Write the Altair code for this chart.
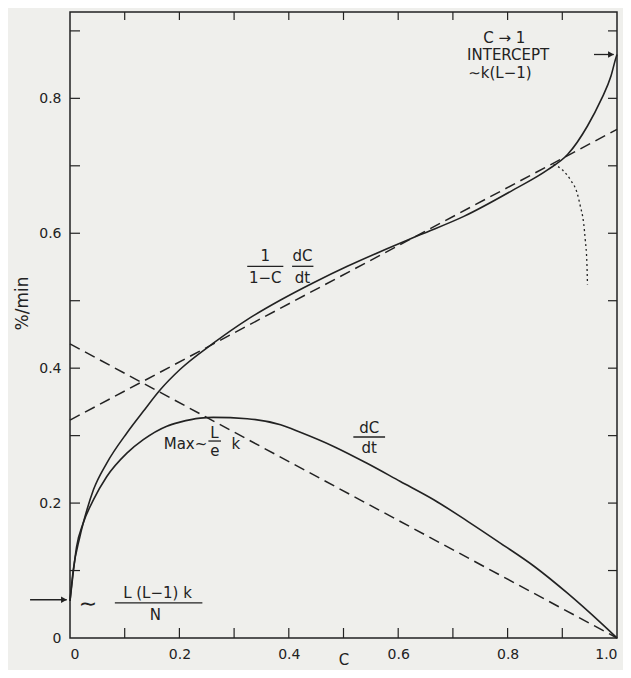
import altair as alt
import pandas as pd

# ---- data ----
# (1/(1-C)) dC/dt  (upper solid curve)
C_norm = [0.0, 0.006, 0.018, 0.031, 0.043, 0.067, 0.104, 0.134, 0.165, 0.201, 0.262,
          0.324, 0.385, 0.446, 0.507, 0.568, 0.641, 0.720, 0.812, 0.873, 0.910,
          0.946, 0.971, 0.989, 0.998, 1.0]
rate_norm = [0.055, 0.101, 0.150, 0.190, 0.220, 0.259, 0.304, 0.336, 0.368, 0.398, 0.437,
             0.472, 0.501, 0.527, 0.551, 0.573, 0.598, 0.625, 0.665, 0.694, 0.717,
             0.759, 0.798, 0.833, 0.860, 0.865]
# dC/dt (lower solid curve)
C_rate = [0.0, 0.006, 0.012, 0.024, 0.043, 0.067, 0.104, 0.134, 0.177, 0.201, 0.238,
          0.262, 0.324, 0.385, 0.421, 0.482, 0.543, 0.604, 0.665, 0.727, 0.788,
          0.849, 0.910, 0.971, 1.0]
rate = [0.055, 0.098, 0.135, 0.170, 0.205, 0.239, 0.274, 0.294, 0.314, 0.320, 0.326,
        0.327, 0.325, 0.316, 0.305, 0.284, 0.259, 0.232, 0.205, 0.173, 0.140,
        0.106, 0.066, 0.022, 0.0]
# dotted branch
C_dot = [0.884, 0.900, 0.915, 0.927, 0.933, 0.939, 0.942, 0.945, 0.946]
dot = [0.702, 0.694, 0.679, 0.660, 0.640, 0.615, 0.590, 0.555, 0.524]
# dashed straight lines
C_line = [0.0, 1.0]
dash_down = [0.436, 0.0]
dash_up = [0.323, 0.754]

x_ticks = [0.1, 0.2, 0.3, 0.4, 0.5, 0.6, 0.7, 0.8, 0.9]
y_ticks = [0.1, 0.2, 0.3, 0.4, 0.5, 0.6, 0.7, 0.8, 0.9]
x_labels = [0.0, 0.2, 0.4, 0.6, 0.8, 1.0]
y_labels = [0.0, 0.2, 0.4, 0.6, 0.8]

# annotations (data coordinates)
ann_text = ["1", "1\u2212C", "dC", "dt", "Max~", "L", "e", "k", "dC", "dt",
            "L (L\u22121) k", "N", "C \u2192 1", "INTERCEPT", "\u223ck(L\u22121)"]
ann_C = [0.357, 0.357, 0.425, 0.425, 0.251, 0.264, 0.265, 0.303, 0.547, 0.547,
         0.160, 0.156, 0.794, 0.801, 0.786]
ann_v = [0.566, 0.534, 0.566, 0.534, 0.288, 0.304, 0.277, 0.288, 0.312, 0.281,
         0.066, 0.0335, 0.890, 0.864, 0.837]
ann_align = ["center", "center", "center", "center", "right", "center", "center", "center",
             "center", "center", "center", "center", "center", "center", "center"]

tilde_C = [0.033]
tilde_v = [0.050]

bar_C = [0.324, 0.406, 0.253, 0.518, 0.082]
bar_C2 = [0.390, 0.445, 0.276, 0.576, 0.242]
bar_v = [0.551, 0.551, 0.292, 0.298, 0.052]

arrow_C = [-0.073, 0.958]
arrow_C2 = [-0.006, 0.994]
arrow_v = [0.0567, 0.865]
head_C = [-0.011, 0.989]

INK = "#222222"
FONT = "DejaVu Sans"
W, H = 547, 626

xs = alt.Scale(domain=[0, 1], nice=False, zero=False)
ys = alt.Scale(domain=[0, 0.928], nice=False, zero=False)
fmt = "datum.value == 0 ? '0' : format(datum.value, '.1f')"
x_axis = alt.Axis(values=x_labels, labelExpr=fmt, ticks=False, domain=False, grid=False,
                  labelPadding=9, labelFontSize=14, title="C", titleFontSize=15,
                  titleFontWeight="normal", titleY=14, titleBaseline="top")
y_axis = alt.Axis(values=y_labels, labelExpr=fmt, ticks=False, domain=False, grid=False,
                  labelPadding=9, labelFontSize=14, title="%/min", titleFontSize=17,
                  titleFontWeight="normal", titleX=-48, titleY=291, titleBaseline="middle",
                  titleAngle=270)


def X(field="C"):
    return alt.X(f"{field}:Q", scale=xs, axis=x_axis)


def Y(field="v"):
    return alt.Y(f"{field}:Q", scale=ys, axis=y_axis)


def line(cs, vs, dash=None, width=1.6, interp="linear"):
    df = pd.DataFrame({"C": cs, "v": vs})
    kw = dict(color=INK, strokeWidth=width, interpolate=interp)
    if dash:
        kw["strokeDash"] = dash
    return alt.Chart(df).mark_line(**kw).encode(x=X(), y=Y())


layers = [
    line(C_norm, rate_norm, interp="monotone"),
    line(C_rate, rate, interp="monotone"),
    line(C_line, dash_down, dash=[11, 6], width=1.5),
    line(C_line, dash_up, dash=[11, 6], width=1.5),
    line(C_dot, dot, dash=[2, 3], width=1.3, interp="monotone"),
]

xt = pd.DataFrame({"C": x_ticks})
yt = pd.DataFrame({"v": y_ticks})
layers += [
    alt.Chart(xt).mark_rule(color=INK, strokeWidth=1.2).encode(x=X(), y=alt.value(H), y2=alt.value(H - 10)),
    alt.Chart(xt).mark_rule(color=INK, strokeWidth=1.2).encode(x=X(), y=alt.value(0), y2=alt.value(8)),
    alt.Chart(yt).mark_rule(color=INK, strokeWidth=1.2).encode(y=Y(), x=alt.value(0), x2=alt.value(10)),
    alt.Chart(yt).mark_rule(color=INK, strokeWidth=1.2).encode(y=Y(), x=alt.value(W), x2=alt.value(W - 9)),
]

bars = pd.DataFrame({"C": bar_C, "C2": bar_C2, "v": bar_v})
layers.append(alt.Chart(bars).mark_rule(color=INK, strokeWidth=1.3).encode(
    x=X(), x2="C2:Q", y=Y()))

arrows = pd.DataFrame({"C": arrow_C, "C2": arrow_C2, "v": arrow_v})
layers.append(alt.Chart(arrows).mark_rule(color=INK, strokeWidth=1.3).encode(
    x=X(), x2="C2:Q", y=Y()))
heads = pd.DataFrame({"C": head_C, "v": arrow_v})
layers.append(alt.Chart(heads).mark_point(shape="triangle-right", filled=True, color=INK,
                                          size=45, opacity=1).encode(x=X(), y=Y()))

ann = pd.DataFrame({"C": ann_C, "v": ann_v, "label": ann_text, "al": ann_align})
layers.append(alt.Chart(ann[ann.al == "center"]).mark_text(
    font=FONT, fontSize=15, color=INK, align="center", baseline="middle").encode(
    x=X(), y=Y(), text="label:N"))
layers.append(alt.Chart(ann[ann.al == "right"]).mark_text(
    font=FONT, fontSize=15, color=INK, align="right", baseline="middle").encode(
    x=X(), y=Y(), text="label:N"))
tl = pd.DataFrame({"C": tilde_C, "v": tilde_v, "label": ["\u223c"]})
layers.append(alt.Chart(tl).mark_text(
    font=FONT, fontSize=22, color=INK, align="center", baseline="middle").encode(
    x=X(), y=Y(), text="label:N"))

chart = alt.layer(*layers).properties(
    width=W, height=H, background="#efefec",
    autosize=alt.AutoSizeParams(type="none"),
    padding={"left": 62, "top": 4, "right": 6, "bottom": 32},
).configure_view(stroke=INK, strokeWidth=1.5).configure_axis(
    labelFont=FONT, titleFont=FONT, labelColor=INK, titleColor=INK
)

chart.save("out.html", embed_options={"renderer": "svg", "actions": False})
